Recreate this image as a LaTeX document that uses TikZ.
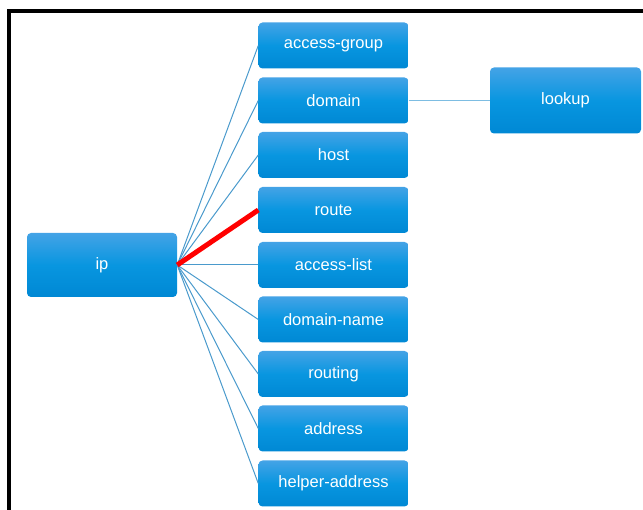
\documentclass[tikz,border=0pt]{standalone}
\usepackage{fontspec}
\setmainfont{Liberation Sans}
\definecolor{boxtop}{HTML}{44A3E6}
\definecolor{boxmid}{HTML}{0896E0}
\definecolor{boxbot}{HTML}{0088D4}
\definecolor{edgecol}{HTML}{4A9ACC}
\definecolor{lightedge}{HTML}{7DBDE2}
\tikzset{
  box/.style={rectangle, rounded corners=4pt, minimum width=150pt, minimum height=46pt,
    inner sep=0pt, top color=boxtop, bottom color=boxbot, middle color=boxmid,
    draw=none, text=white, font=\fontsize{16.5}{19}\selectfont},
  link/.style={draw=edgecol, line width=1pt},
  hot/.style={draw=red, line width=5pt},
}
\begin{document}
\begin{tikzpicture}[x=1pt, y=-1pt]
\useasboundingbox (0,0) rectangle (643,510);
\begin{scope}
\clip (0,0) rectangle (643,510);
\draw[line width=4pt, black] (9,530) -- (9,11) -- (660,11);
\end{scope}
\node[box, minimum height=64pt] (ip) at (102,265) {ip};
\node[box] (ag) at (333.5,45.5) {access-group};
\node[box] (dom) at (333.5,100.5) {domain};
\node[box] (host) at (333.5,155) {host};
\node[box] (route) at (333.5,210) {route};
\node[box] (al) at (333.5,265) {access-list};
\node[box] (dn) at (333.5,319.5) {domain-name};
\node[box] (routing) at (333.5,374) {routing};
\node[box] (addr) at (333.5,428.5) {address};
\node[box] (ha) at (333.5,483.5) {helper-address};
\node[box, minimum width=151pt, minimum height=66pt] (lookup) at (565.5,100.5) {lookup};
\foreach \t in {ag,dom,host,al,dn,routing,addr,ha}
  \draw[link] (ip.east) -- (\t.west);
\draw[draw=lightedge, line width=1.5pt] (dom.east) -- (lookup.west);
\draw[hot] (ip.east) -- (route.west);
\end{tikzpicture}
\end{document}
